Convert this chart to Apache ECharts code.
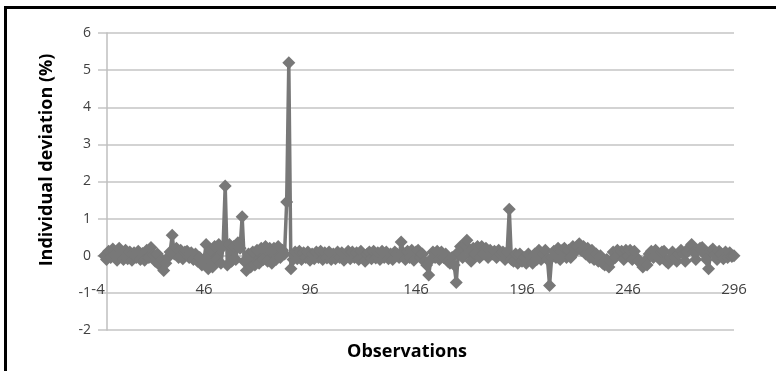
<!DOCTYPE html>
<html>
<head>
<meta charset="utf-8">
<script src="https://cdn.jsdelivr.net/npm/echarts@6/dist/echarts.min.js"></script>
<style>
  html, body { margin: 0; padding: 0; background: #ffffff; }
  #main { width: 776px; height: 371px; }
</style>
</head>
<body>
<div id="main"></div>
<script>
// first observation number, then one deviation (%) per observation
var firstObservation = -1;
var deviation = [
    0, -0.1, 0.12, -0.05, 0.18, 0.02, -0.12, 0.2, 0.05, -0.1,
    0.15, -0.08, 0.1, -0.12, 0.08, -0.05, 0.12, -0.1, 0.06, -0.12,
    0.15, -0.05, 0.22, 0.02, -0.15, 0.05, -0.25, -0.1, -0.4, -0.2,
    -0.05, 0.1, 0.55, 0.05, 0.2, -0.05, 0.15, -0.08, 0.1, 0.12,
    -0.05, 0.08, -0.1, 0.05, -0.15, -0.05, -0.25, -0.1, 0.3, -0.35,
    0.15, -0.3, 0.25, -0.1, 0.3, -0.2, 0.25, 1.88, -0.25, 0.3,
    -0.15, 0.25, -0.1, 0.35, 0.2, 1.05, -0.15, -0.4, 0.05, -0.3,
    0.1, -0.25, 0.15, -0.2, 0.2, -0.1, 0.25, -0.15, 0.2, -0.2,
    0.2, -0.1, 0.25, -0.05, 0.15, 0.05, 1.45, 5.2, -0.35, -0.1,
    0.1, -0.08, 0.12, -0.1, 0.08, -0.05, 0.1, -0.12, 0.05, -0.08,
    0.1, -0.05, 0.12, -0.1, 0.08, -0.06, 0.1, -0.1, 0.05, -0.08,
    0.1, -0.05, 0.08, -0.12, -0.05, 0.12, -0.08, 0.1, -0.05,
    0.08, -0.1, 0.12, -0.05, -0.15, 0.05, 0.1, -0.08, 0.12, -0.06,
    0.08, -0.1, 0.12, -0.05, 0.1, -0.08, 0.05, -0.1, 0.1, 0.05,
    -0.05, 0.37, 0.08, -0.1, 0.12, -0.05, 0.15, -0.12, 0.1, 0.15,
    -0.05, 0.05, -0.15, -0.25, -0.52, -0.1, 0.1, -0.05, 0.12, -0.1,
    0.1, -0.05, 0.05, -0.15, -0.2, -0.05, -0.25, -0.72, 0.1, 0.25,
    -0.05, 0.3, 0.42, 0.1, -0.15, 0.2, 0.05, 0.25, -0.05, 0.25,
    0.05, 0.2, -0.05, 0.15, 0.05, 0.12, -0.05, 0.15, 0.05, 0.1,
    -0.1, 0.1, 1.25, -0.1, -0.15, 0.05, -0.2, 0.05, -0.15, -0.05,
    -0.2, 0.05, -0.1, -0.2, 0.05, -0.1, 0.15, -0.1, 0.05, 0.15,
    -0.1, -0.8, -0.05, 0.12, -0.05, 0.2, -0.1, 0.15, 0.2,
    -0.05, 0.15, -0.05, 0.25, 0.1, 0.25, 0.32, 0.15, 0.25, 0.05,
    0.2, -0.05, 0.15, -0.1, 0.05, -0.15, 0, -0.2, -0.25, -0.1,
    -0.3, -0.15, 0.1, -0.05, 0.15, 0.05, 0.12, -0.1, 0.15, 0,
    0.15, -0.1, 0.12, -0.05, -0.15, -0.2, -0.3, -0.15, -0.25, 0.05,
    0.12, -0.05, 0.15, 0.02, -0.1, 0.1, 0.12, -0.15, -0.2, -0.05,
    0.1, -0.05, -0.15, 0.05, 0.15, 0.05, -0.15, 0.1, 0.22, 0.3,
    0.1, -0.1, 0.15, 0.2, 0.22, 0.05, -0.1, -0.35, 0.12,
    0.18, 0.02, -0.1, 0.12, 0.05, -0.08, 0.1, -0.05, 0.08, -0.02, 0
];
var xRange = [-4, 296];
var yRange = [-2, 6];

var points = [];
for (var i = 0; i < deviation.length; i++) {
    points.push([firstObservation + i, deviation[i]]);
}

var myChart = echarts.init(document.getElementById('main'));
var option = {
    animation: false,
    backgroundColor: '#ffffff',
    textStyle: { fontFamily: 'Open Sans' },
    grid: { left: 98, right: 42, top: 33, bottom: 41 },
    xAxis: {
        type: 'value',
        min: xRange[0],
        max: xRange[1],
        interval: 50,
        // axis sits on the zero line: 2 units above the bottom of the grid
        offset: -74,
        axisLine: { onZero: false, lineStyle: { color: '#bfbfbf', width: 1.5 } },
        axisTick: { show: false },
        splitLine: { show: false },
        axisLabel: { color: '#404040', fontSize: 15, margin: 26 }
    },
    yAxis: {
        type: 'value',
        min: yRange[0],
        max: yRange[1],
        interval: 1,
        // vertical axis crosses at x = 0
        offset: -9,
        axisLine: { show: true, onZero: false, lineStyle: { color: '#bfbfbf', width: 1.5 } },
        axisTick: { show: false },
        splitLine: { lineStyle: { color: '#c4c4c4', width: 1.5 } },
        axisLabel: { color: '#404040', fontSize: 14, margin: 16 }
    },
    graphic: [
        {
            type: 'rect',
            shape: { x: 5.5, y: 7.5, width: 820, height: 420 },
            style: { fill: 'none', stroke: '#000000', lineWidth: 3 }
        },
        {
            type: 'text',
            x: 47, y: 160,
            rotation: Math.PI / 2,
            style: {
                text: 'Individual deviation (%)',
                font: 'bold 18px "Open Sans"',
                fill: '#000000',
                align: 'center',
                verticalAlign: 'middle'
            }
        },
        {
            type: 'text',
            x: 407, y: 352,
            style: {
                text: 'Observations',
                font: 'bold 18px "Open Sans"',
                fill: '#000000',
                align: 'center',
                verticalAlign: 'middle'
            }
        }
    ],
    series: [
        {
            type: 'line',
            data: points,
            symbol: 'diamond',
            symbolSize: 13,
            showAllSymbol: true,
            lineStyle: { color: '#787878', width: 3.5 },
            itemStyle: { color: '#787878' }
        }
    ]
};
myChart.setOption(option);
</script>
</body>
</html>
